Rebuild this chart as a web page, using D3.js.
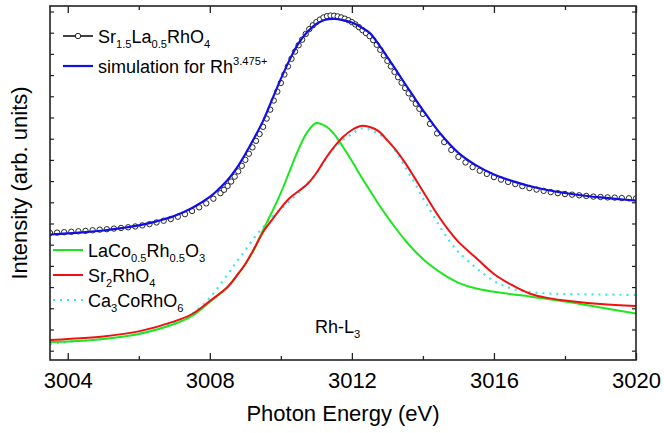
<!DOCTYPE html>
<html>
<head>
<meta charset="utf-8">
<script src="https://cdn.jsdelivr.net/npm/d3@7"></script>
<style>
  body { margin: 0; background: #fff; }
  text { font-family: "Liberation Sans", Arial, sans-serif; fill: #000; }
</style>
</head>
<body>
<div id="chart"></div>
<script>
// measured Sr1.5La0.5RhO4 spectrum (open circles)
const expEnergy = [
  3003.5, 3003.7, 3003.9, 3004.1, 3004.3, 3004.5, 3004.7, 3004.9, 3005.1, 3005.3,
  3005.5, 3005.7, 3005.9, 3006.1, 3006.3, 3006.5, 3006.7, 3006.9, 3007.1, 3007.3,
  3007.5, 3007.7, 3007.9, 3008.1, 3008.3,
  3008.4, 3008.5, 3008.6, 3008.7, 3008.8, 3008.9, 3009.0, 3009.1, 3009.2, 3009.3,
  3009.4, 3009.5, 3009.6, 3009.7, 3009.8, 3009.9, 3010.0, 3010.1, 3010.2, 3010.3,
  3010.4, 3010.5, 3010.6, 3010.7, 3010.8, 3010.9, 3011.0, 3011.1, 3011.2, 3011.3,
  3011.4, 3011.5, 3011.6, 3011.7, 3011.8, 3011.9, 3012.0, 3012.1, 3012.2, 3012.3,
  3012.4, 3012.5, 3012.6, 3012.7, 3012.8, 3012.9, 3013.0, 3013.1, 3013.2, 3013.3,
  3013.4, 3013.5, 3013.6, 3013.7, 3013.8, 3013.9, 3014.0,
  3014.2, 3014.4, 3014.6, 3014.8, 3015.0, 3015.2, 3015.4, 3015.6, 3015.8, 3016.0,
  3016.2, 3016.4, 3016.6, 3016.8, 3017.0, 3017.2, 3017.4, 3017.6, 3017.8, 3018.0,
  3018.2, 3018.4, 3018.6, 3018.8, 3019.0, 3019.2, 3019.4, 3019.6, 3019.8, 3020.0
];
const expIntensity = [
  0.555, 0.557, 0.559, 0.561, 0.563, 0.565, 0.568, 0.571, 0.573, 0.576,
  0.579, 0.582, 0.586, 0.591, 0.597, 0.605, 0.613, 0.621, 0.632, 0.644,
  0.659, 0.676, 0.695, 0.717, 0.743,
  0.759, 0.777, 0.798, 0.821, 0.846, 0.872, 0.900, 0.929, 0.959, 0.990,
  1.022, 1.056, 1.095, 1.137, 1.180, 1.222, 1.263, 1.303, 1.341, 1.377,
  1.411, 1.441, 1.467, 1.494, 1.517, 1.535, 1.550, 1.562, 1.572, 1.578,
  1.581, 1.580, 1.577, 1.572, 1.566, 1.559, 1.550, 1.539, 1.526, 1.512,
  1.498, 1.484, 1.465, 1.443, 1.419, 1.393, 1.367, 1.341, 1.315, 1.290,
  1.264, 1.239, 1.214, 1.189, 1.165, 1.141, 1.117,
  1.070, 1.025, 0.984, 0.947, 0.914, 0.888, 0.866, 0.849, 0.834, 0.819,
  0.807, 0.796, 0.786, 0.776, 0.767, 0.760, 0.754, 0.748, 0.743, 0.739,
  0.736, 0.733, 0.730, 0.727, 0.725, 0.723, 0.722, 0.720, 0.719, 0.718
];

// simulation for Rh3.475+
const simEnergy = [
  3003.5, 3004, 3004.5, 3005, 3005.5, 3006, 3006.5, 3007, 3007.5, 3008,
  3008.25, 3008.5, 3008.75, 3009, 3009.25, 3009.5, 3009.75, 3010, 3010.25, 3010.5,
  3010.75, 3011, 3011.25, 3011.5, 3011.75, 3012, 3012.25, 3012.5, 3012.75, 3013,
  3013.25, 3013.5, 3013.75, 3014, 3014.5, 3015, 3015.5, 3016, 3016.5, 3017,
  3017.5, 3018, 3018.5, 3019, 3019.5, 3020
];
const simIntensity = [
  0.548, 0.553, 0.559, 0.567, 0.578, 0.591, 0.610, 0.635, 0.673, 0.725,
  0.762, 0.805, 0.860, 0.928, 1.003, 1.084, 1.183, 1.282, 1.373, 1.451,
  1.505, 1.541, 1.561, 1.565, 1.559, 1.548, 1.527, 1.499, 1.446, 1.385,
  1.322, 1.258, 1.196, 1.135, 1.022, 0.933, 0.874, 0.831, 0.801, 0.777,
  0.758, 0.744, 0.732, 0.723, 0.715, 0.708
];

// reference spectra
const refEnergy = [
  3003.5, 3004, 3005, 3006, 3007, 3007.5, 3008, 3008.5, 3008.75, 3009,
  3009.25, 3009.5, 3009.75, 3010, 3010.25, 3010.5, 3010.75, 3011, 3011.25, 3011.5,
  3011.75, 3012, 3012.25, 3012.5, 3012.75, 3013, 3013.25, 3013.5, 3013.75, 3014,
  3014.25, 3014.5, 3014.75, 3015, 3015.5, 3016, 3016.5, 3017, 3017.5, 3018,
  3019, 3020
];
const laCoRh = [
  0.041, 0.043, 0.055, 0.079, 0.126, 0.164, 0.230, 0.300, 0.352, 0.409,
  0.480, 0.569, 0.654, 0.744, 0.848, 0.951, 1.032, 1.074, 1.060, 1.022,
  0.961, 0.895, 0.824, 0.758, 0.692, 0.631, 0.574, 0.521, 0.474, 0.433,
  0.398, 0.368, 0.342, 0.320, 0.293, 0.278, 0.266, 0.256, 0.244, 0.232,
  0.204, 0.175
];
const sr2Rh = [
  0.050, 0.055, 0.067, 0.091, 0.138, 0.173, 0.234, 0.300, 0.352, 0.409,
  0.482, 0.560, 0.617, 0.673, 0.720, 0.753, 0.786, 0.838, 0.904, 0.961,
  1.008, 1.041, 1.060, 1.055, 1.036, 0.992, 0.944, 0.886, 0.820, 0.752,
  0.684, 0.620, 0.563, 0.513, 0.437, 0.362, 0.310, 0.270, 0.249, 0.237,
  0.220, 0.211
];
const ca3CoRh = [
  0.032, 0.041, 0.055, 0.079, 0.131, 0.173, 0.250, 0.360, 0.418, 0.475,
  0.532, 0.583, 0.631, 0.668, 0.706, 0.744, 0.791, 0.834, 0.900, 0.956,
  0.994, 1.022, 1.048, 1.043, 1.022, 0.994, 0.937, 0.866, 0.796, 0.720,
  0.650, 0.579, 0.517, 0.466, 0.390, 0.329, 0.293, 0.277, 0.270, 0.267,
  0.265, 0.263
];

const xTicksMajor = [3004, 3008, 3012, 3016, 3020];
const xTicksMinor = [3006, 3010, 3014, 3018];

const width = 664, height = 433;
const plot = {left: 50, right: 636, top: 6, bottom: 360};

const svg = d3.select("#chart").append("svg")
    .attr("width", width)
    .attr("height", height);

const x = d3.scaleLinear().domain([3003.5, 3020]).range([plot.left, plot.right]);
const y = d3.scaleLinear().domain([-0.044, 1.626]).range([plot.bottom, plot.top]);

const line = d3.line()
    .x(d => x(d[0]))
    .y(d => y(d[1]))
    .curve(d3.curveCatmullRom.alpha(0.5));

const zip = (a, b) => a.map((v, i) => [v, b[i]]);

svg.append("clipPath").attr("id", "clip")
    .append("rect")
    .attr("x", plot.left).attr("y", plot.top)
    .attr("width", plot.right - plot.left).attr("height", plot.bottom - plot.top);

const g = svg.append("g").attr("clip-path", "url(#clip)");

// reference curves
g.append("path")
    .attr("d", line(zip(refEnergy, ca3CoRh)))
    .attr("fill", "none")
    .attr("stroke", "#3de4f2")
    .attr("stroke-width", 2.2)
    .attr("stroke-dasharray", "2,5");

g.append("path")
    .attr("d", line(zip(refEnergy, laCoRh)))
    .attr("fill", "none")
    .attr("stroke", "#1ee61e")
    .attr("stroke-width", 2);

g.append("path")
    .attr("d", line(zip(refEnergy, sr2Rh)))
    .attr("fill", "none")
    .attr("stroke", "#f01010")
    .attr("stroke-width", 2);

// measured data
g.selectAll("circle.exp")
    .data(zip(expEnergy, expIntensity))
    .join("circle")
    .attr("class", "exp")
    .attr("cx", d => x(d[0]))
    .attr("cy", d => y(d[1]))
    .attr("r", 2.7)
    .attr("fill", "#fff")
    .attr("stroke", "#111")
    .attr("stroke-width", 0.9);

g.append("path")
    .attr("d", line(zip(simEnergy, simIntensity)))
    .attr("fill", "none")
    .attr("stroke", "#1010e6")
    .attr("stroke-width", 2.2);

// axes (ticks inward, mirrored)
const axisCol = "#222";
svg.append("g")
    .attr("transform", `translate(0, ${plot.bottom})`)
    .call(d3.axisBottom(x).tickValues(xTicksMajor).tickSize(-7).tickPadding(12).tickFormat(d3.format("d")))
    .call(a => a.select(".domain").remove())
    .call(a => a.selectAll("line").attr("stroke", axisCol).attr("stroke-width", 1.3))
    .call(a => a.selectAll("text").style("font-size", "22px").attr("fill", "#000")
        .style("font-family", "'Liberation Sans', Arial, sans-serif"));

svg.append("g")
    .attr("transform", `translate(0, ${plot.bottom})`)
    .call(d3.axisBottom(x).tickValues(xTicksMinor).tickSize(-4).tickFormat(""))
    .call(a => a.select(".domain").remove())
    .call(a => a.selectAll("text").remove())
    .call(a => a.selectAll("line").attr("stroke", axisCol).attr("stroke-width", 1.3));

svg.append("g")
    .attr("transform", `translate(0, ${plot.top})`)
    .call(d3.axisTop(x).tickValues(xTicksMajor).tickSize(-7).tickFormat(""))
    .call(a => a.select(".domain").remove())
    .call(a => a.selectAll("text").remove())
    .call(a => a.selectAll("line").attr("stroke", axisCol).attr("stroke-width", 1.3));

svg.append("g")
    .attr("transform", `translate(0, ${plot.top})`)
    .call(d3.axisTop(x).tickValues(xTicksMinor).tickSize(-4).tickFormat(""))
    .call(a => a.select(".domain").remove())
    .call(a => a.selectAll("text").remove())
    .call(a => a.selectAll("line").attr("stroke", axisCol).attr("stroke-width", 1.3));

const yTicks = d3.range(0, 17).map(i => i / 10);
svg.append("g")
    .attr("transform", `translate(${plot.left}, 0)`)
    .call(d3.axisLeft(y).tickValues(yTicks).tickSize(-4).tickFormat(""))
    .call(a => a.select(".domain").remove())
    .call(a => a.selectAll("text").remove())
    .call(a => a.selectAll("line").attr("stroke", axisCol).attr("stroke-width", 1.2));

svg.append("g")
    .attr("transform", `translate(${plot.right}, 0)`)
    .call(d3.axisRight(y).tickValues(yTicks).tickSize(-4).tickFormat(""))
    .call(a => a.select(".domain").remove())
    .call(a => a.selectAll("text").remove())
    .call(a => a.selectAll("line").attr("stroke", axisCol).attr("stroke-width", 1.2));

svg.append("rect")
    .attr("x", plot.left).attr("y", plot.top)
    .attr("width", plot.right - plot.left).attr("height", plot.bottom - plot.top)
    .attr("fill", "none")
    .attr("stroke", axisCol)
    .attr("stroke-width", 1.6);

// axis titles
svg.append("text")
    .attr("x", (plot.left + plot.right) / 2)
    .attr("y", 421)
    .attr("text-anchor", "middle")
    .style("font-size", "22px")
    .text("Photon Energy (eV)");

svg.append("text")
    .attr("transform", `translate(27, ${(plot.top + plot.bottom) / 2}) rotate(-90)`)
    .attr("text-anchor", "middle")
    .style("font-size", "22px")
    .text("Intensity (arb. units)");

// chemical formula helper: parts of [text, "sub"|"sup"|undefined]
function formula(sel, parts, size) {
    let shift = 0;
    parts.forEach(p => {
        const target = p[1] === "sub" ? size * 0.28 : p[1] === "sup" ? -size * 0.42 : 0;
        const t = sel.append("tspan").attr("dy", target - shift).text(p[0]);
        t.style("font-size", (p[1] ? size * 0.62 : size) + "px");
        shift = target;
    });
}

const fs = 18;

// top legend
const legTop = [
    {y: 36, parts: [["Sr"], ["1.5", "sub"], ["La"], ["0.5", "sub"], ["RhO"], ["4", "sub"]], kind: "circle"},
    {y: 66, parts: [["simulation for Rh"], ["3.475+", "sup"]], kind: "blue"}
];
legTop.forEach(l => {
    if (l.kind === "circle") {
        svg.append("line").attr("x1", 63).attr("x2", 93).attr("y1", l.y).attr("y2", l.y)
            .attr("stroke", "#111").attr("stroke-width", 1.6);
        svg.append("circle").attr("cx", 78).attr("cy", l.y).attr("r", 2.7)
            .attr("fill", "#fff").attr("stroke", "#111").attr("stroke-width", 0.9);
    } else {
        svg.append("line").attr("x1", 63).attr("x2", 93).attr("y1", l.y).attr("y2", l.y)
            .attr("stroke", "#1010e6").attr("stroke-width", 2.2);
    }
    const t = svg.append("text").attr("x", 98).attr("y", l.y + 7).style("font-size", fs + "px");
    formula(t, l.parts, fs);
});

// lower legend
const legBottom = [
    {y: 250, parts: [["LaCo"], ["0.5", "sub"], ["Rh"], ["0.5", "sub"], ["O"], ["3", "sub"]], color: "#1ee61e", dash: null},
    {y: 275, parts: [["Sr"], ["2", "sub"], ["RhO"], ["4", "sub"]], color: "#f01010", dash: null},
    {y: 300, parts: [["Ca"], ["3", "sub"], ["CoRhO"], ["6", "sub"]], color: "#3de4f2", dash: "2,5"}
];
legBottom.forEach(l => {
    svg.append("line").attr("x1", 53).attr("x2", 83).attr("y1", l.y).attr("y2", l.y)
        .attr("stroke", l.color).attr("stroke-width", l.dash ? 2.2 : 2)
        .attr("stroke-dasharray", l.dash);
    const t = svg.append("text").attr("x", 88).attr("y", l.y + 7).style("font-size", fs + "px");
    formula(t, l.parts, fs);
});

// edge label
const edge = svg.append("text").attr("x", 315).attr("y", 333).style("font-size", fs + "px");
formula(edge, [["Rh-L"], ["3", "sub"]], fs);
</script>
</body>
</html>
